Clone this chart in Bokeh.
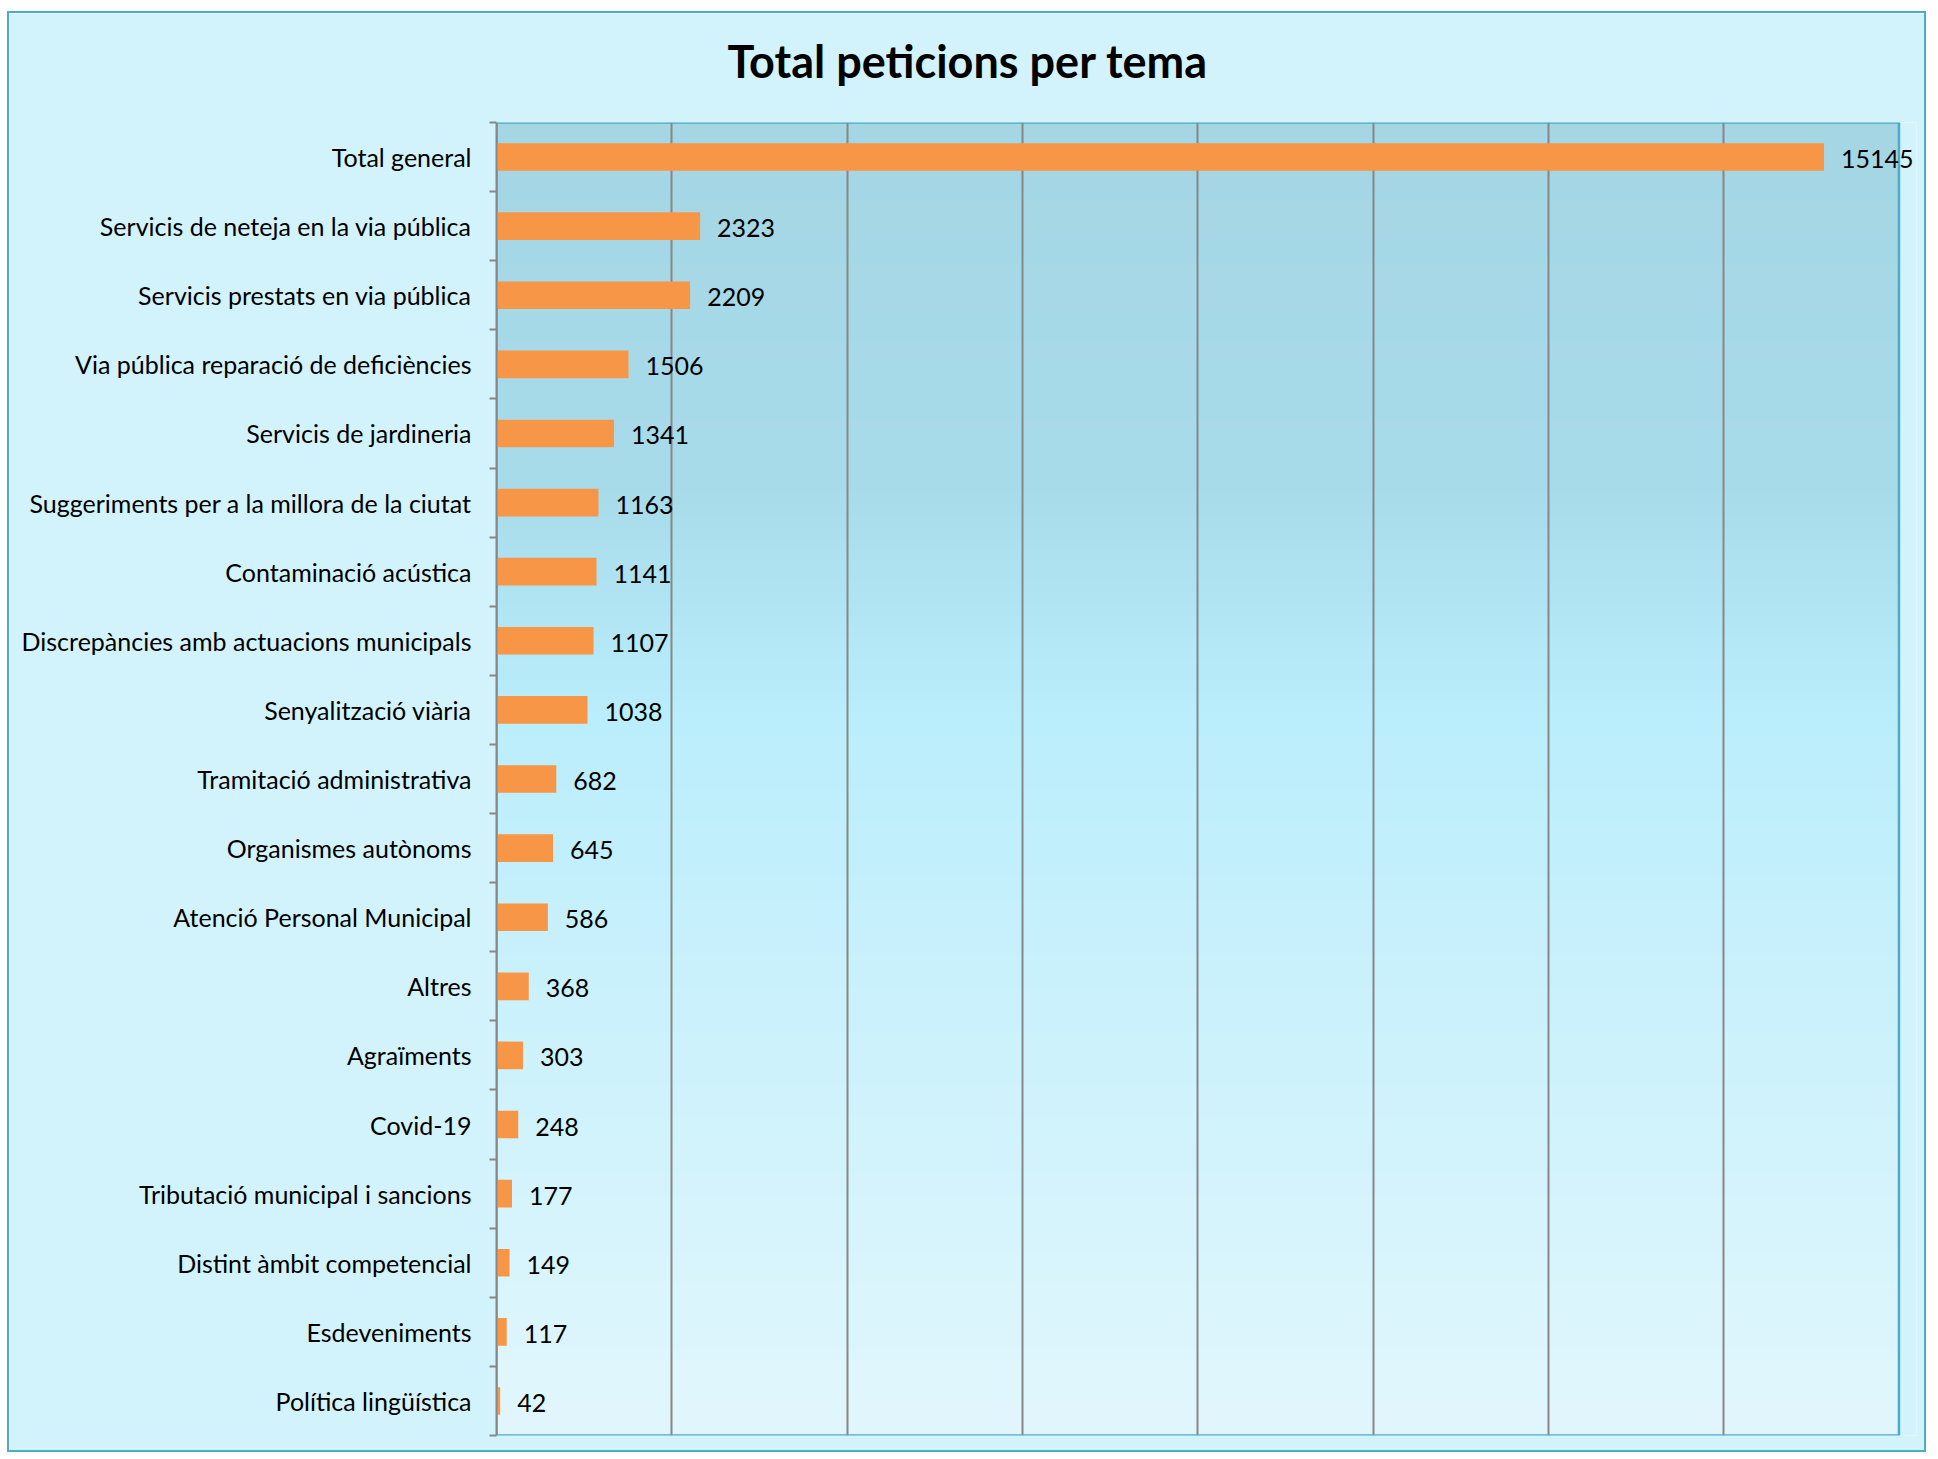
import numpy as np
from bokeh.plotting import figure
from bokeh.models import Range1d, LinearAxis, FixedTicker, Grid, ColumnDataSource
from bokeh.core.properties import value
from bokeh.embed import file_html
from bokeh.resources import INLINE

categories = [
    "Total general",
    "Servicis de neteja en la via pública",
    "Servicis prestats en via pública",
    "Via pública reparació de deficiències",
    "Servicis de jardineria",
    "Suggeriments per a la millora de la ciutat",
    "Contaminació acústica",
    "Discrepàncies amb actuacions municipals",
    "Senyalització viària",
    "Tramitació administrativa",
    "Organismes autònoms",
    "Atenció Personal Municipal",
    "Altres",
    "Agraïments",
    "Covid-19",
    "Tributació municipal i sancions",
    "Distint àmbit competencial",
    "Esdeveniments",
    "Política lingüística",
]
values = [15145, 2323, 2209, 1506, 1341, 1163, 1141, 1107, 1038, 682, 645, 586,
          368, 303, 248, 177, 149, 117, 42]
x_ticks = [0, 2000, 4000, 6000, 8000, 10000, 12000, 14000, 16000]

n = len(categories)
x_max = x_ticks[-1]
centers = [n - i - 0.5 for i in range(n)]
source = ColumnDataSource(dict(cat=categories, val=values, y=centers,
                               lab=[str(v) for v in values]))

FONT = "Lato"
W, H = 1919, 1441
OUTER = "#d3f3fc"

# x range a little wider than the axis max so the longest value label can spill past the box
p = figure(width=W, height=H, output_backend="svg", toolbar_location=None,
           x_range=Range1d(0, x_max * 1.0125), y_range=Range1d(0, n),
           x_axis_location=None, y_axis_location=None,
           min_border_left=487, min_border_right=12, min_border_top=109,
           min_border_bottom=19)
p.styles = {"border": "2px solid #4bacc6", "margin": "11px 0 0 7px"}
p.border_fill_color = OUTER
p.background_fill_color = OUTER
p.outline_line_color = None
p.xgrid.visible = False
p.ygrid.visible = False

# plot-area background gradient (top grey-blue -> bright cyan -> pale)
stops_t = [0.0, 0.28, 0.45, 1.0]
stops_c = [(0xa4, 0xd6, 0xe4), (0xa9, 0xdc, 0xeb), (0xbb, 0xee, 0xfc), (0xe2, 0xf7, 0xfd)]
NB = 120
tops = np.linspace(n, 0, NB + 1)[:-1]
tt = (np.arange(NB) + 0.5) / NB
cols = []
for t in tt:
    rgb = [int(np.interp(t, stops_t, [c[k] for c in stops_c])) for k in range(3)]
    cols.append("#%02x%02x%02x" % tuple(rgb))
p.quad(left=0, right=x_max, top=list(tops), bottom=0,
       fill_color=cols, line_color=None, level="image")

p.add_layout(Grid(dimension=0, ticker=FixedTicker(ticks=x_ticks[1:-1]),
                  grid_line_color="#878787", grid_line_width=2))

# plot box border
p.quad(left=0, right=x_max, top=n, bottom=0, fill_color=None,
       line_color="#4bacc6", line_width=2.5)

# tick axis (category boundaries)
bounds = list(range(n + 1))
ax_ticks = LinearAxis(ticker=FixedTicker(ticks=bounds),
                      major_label_overrides={b: "" for b in bounds},
                      major_label_standoff=0,
                      major_tick_out=7, major_tick_in=0,
                      major_tick_line_color="#878787", major_tick_line_width=2,
                      minor_tick_line_color=None,
                      axis_line_color="#878787", axis_line_width=2)
p.add_layout(ax_ticks, "left")

# label axis (category centers)
ax_lab = LinearAxis(ticker=FixedTicker(ticks=centers),
                    major_label_overrides={c: cat for c, cat in zip(centers, categories)},
                    major_label_text_font=FONT, major_label_text_font_size="25px",
                    major_label_text_color="#000000", major_label_standoff=12,
                    major_tick_line_color=None, minor_tick_line_color=None,
                    axis_line_color=None)
p.add_layout(ax_lab, "left")

p.hbar(y="y", right="val", left=0, height=0.4, source=source,
       fill_color="#f79646", line_color=None)
p.text(x="val", y="y", text="lab", source=source, x_offset=17, y_offset=2,
       text_baseline="middle", text_align="left",
       text_font=value(FONT), text_font_size="25px", text_color="#000000")

p.title.text = "Total peticions per tema"
p.title.text_font = FONT
p.title.text_font_size = "45px"
p.title.text_font_style = "bold"
p.title.text_color = "#000000"
p.title.align = "left"
p.title.vertical_align = "top"
p.title.padding = (0, 0, 0, 28)
p.title.offset = 231
p.title.standoff = 10

open("out.html", "w").write(file_html(p, INLINE))
